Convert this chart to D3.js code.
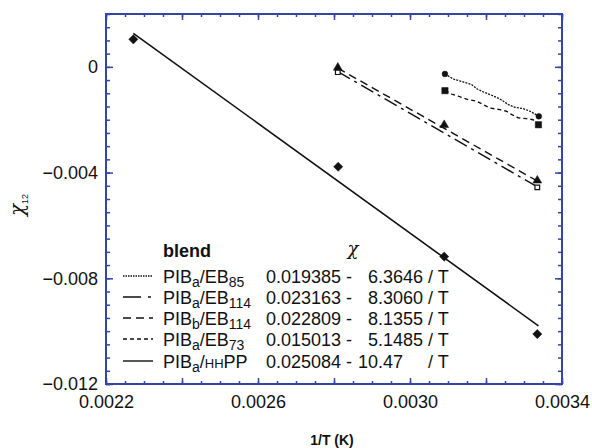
<!DOCTYPE html>
<html>
<head>
<meta charset="utf-8">
<script src="https://cdn.jsdelivr.net/npm/d3@7"></script>
<style>
  body { margin: 0; background: #fff; }
  svg { display: block; font-family: "Liberation Sans", Arial, sans-serif; }
</style>
</head>
<body>
<svg width="592" height="448"></svg>
<script>
// Tick values
const xLabelTicks = [0.0022, 0.0026, 0.0030, 0.0034];
const yLabelTicks = [0, -0.004, -0.008, -0.012];

// PIBa/HHPP - diamonds + solid fit line
const hhppX = [0.002272, 0.002811, 0.003090, 0.003335];
const hhppY = [0.00104, -0.00378, -0.00718, -0.01011];
const hhppFitX = [0.002272, 0.003338];
const hhppFitY = [0.00127, -0.0098];

// PIBa/EB114 - open squares + dash-dot fit line
const eb114aX = [0.00281, 0.003335];
const eb114aY = [-0.0002, -0.00456];
const eb114aFitY = [-0.00018, -0.00454];

// PIBb/EB114 - triangles + dashed fit line
const eb114bX = [0.00281, 0.00309, 0.003335];
const eb114bY = [-0.00003, -0.0022, -0.0043];
const eb114bFitY = [-0.00005, -0.00432];

// PIBa/EB85 - circles, fine dotted curve
const eb85X = [0.003092, 0.003114, 0.003140, 0.003162, 0.003176, 0.003193, 0.003211,
  0.003232, 0.003246, 0.003259, 0.003276, 0.003298, 0.003316, 0.003339];
const eb85Y = [-0.00027, -0.00046, -0.00057, -0.00067, -0.00083, -0.00095, -0.00105,
  -0.00118, -0.00130, -0.00143, -0.00153, -0.00158, -0.00168, -0.00187];

// PIBa/EB73 - filled squares, short dashed curve
const eb73X = [0.003092, 0.003110, 0.003127, 0.003153, 0.003176, 0.003193, 0.003211,
  0.003237, 0.003254, 0.003268, 0.003285, 0.003307, 0.003324, 0.003338];
const eb73Y = [-0.00090, -0.00103, -0.00111, -0.00124, -0.00130, -0.00143, -0.00156,
  -0.00162, -0.00168, -0.00181, -0.00193, -0.00196, -0.00200, -0.00219];

// Legend content
const legendSub1 = ["a", "a", "b", "a", "a"];
const legendSub2 = ["85", "114", "114", "73", ""];
const legendA = ["0.019385", "0.023163", "0.022809", "0.015013", "0.025084"];
const legendB = ["6.3646", "8.3060", "8.1355", "5.1485", "10.47"];
const legendDash = ["1.5,1", "18,7,3,10", "8,5", "4,3", null];

const blue = "#3346a8";
const margin = { top: 14, right: 30, bottom: 64, left: 106 };
const width = 592 - margin.left - margin.right,
  height = 448 - margin.top - margin.bottom;

const svg = d3.select("svg")
  .append("g")
  .attr("transform", `translate(${margin.left},${margin.top})`);

const x = d3.scaleLinear().domain([0.0022, 0.0034]).range([0, width]);
const y = d3.scaleLinear().domain([-0.012, 0.002]).range([height, 0]);

const xMinor = d3.range(0, 25).map(i => 0.0022 + i * 0.00005);
const xMajor = d3.range(0, 7).map(i => 0.0022 + i * 0.0002);
const yMinor = d3.range(0, 29).map(i => -0.012 + i * 0.0005);

// Ticks drawn inward on all four sides
function tickAxis(axisFn, scale, values, size, transform) {
  const g = svg.append("g")
    .attr("transform", transform)
    .call(axisFn(scale).tickValues(values).tickSize(-size).tickFormat(""));
  g.select(".domain").remove();
  g.selectAll("line").attr("stroke", blue).attr("stroke-width", 1.5);
  return g;
}
tickAxis(d3.axisBottom, x, xMinor, 3, `translate(0,${height})`);
tickAxis(d3.axisBottom, x, xMajor, 6, `translate(0,${height})`);
tickAxis(d3.axisTop, x, xMinor, 3, "translate(0,0)");
tickAxis(d3.axisTop, x, xMajor, 6, "translate(0,0)");
tickAxis(d3.axisLeft, y, yMinor, 4, "translate(0,0)");
tickAxis(d3.axisLeft, y, yLabelTicks, 7, "translate(0,0)");
tickAxis(d3.axisRight, y, yMinor, 4, `translate(${width},0)`);
tickAxis(d3.axisRight, y, yLabelTicks, 7, `translate(${width},0)`);

// Tick labels
const xl = svg.append("g")
  .attr("transform", `translate(0,${height})`)
  .call(d3.axisBottom(x).tickValues(xLabelTicks).tickSize(0).tickPadding(11)
    .tickFormat(d3.format(".4f")));
xl.select(".domain").remove();
xl.selectAll("text").attr("font-size", 18).attr("fill", "#111").attr("font-family", null);

const yl = svg.append("g")
  .call(d3.axisLeft(y).tickValues(yLabelTicks).tickSize(0).tickPadding(8)
    .tickFormat(d => d === 0 ? "0" : d3.format(".3f")(d)));
yl.select(".domain").remove();
yl.selectAll("text").attr("font-size", 18).attr("fill", "#111").attr("font-family", null);

// Frame
svg.append("rect")
  .attr("width", width).attr("height", height)
  .attr("fill", "none").attr("stroke", blue).attr("stroke-width", 2);

// Axis titles
svg.append("text")
  .attr("x", width / 2 - 2).attr("y", height + 61)
  .attr("text-anchor", "middle")
  .attr("font-size", 14).attr("font-weight", "bold").attr("fill", "#111")
  .text("1/T (K)");

const yTitle = svg.append("text")
  .attr("transform", `translate(${-82},${height / 2 + 6}) rotate(-90)`)
  .attr("text-anchor", "middle").attr("fill", "#111");
yTitle.append("tspan").attr("font-family", "DejaVu Serif").attr("font-style", "italic")
  .attr("font-size", 20).text("χ");
yTitle.append("tspan").attr("font-size", 9).attr("dy", 4).text("12");

// Lines
const line = d3.line().x(d => x(d[0])).y(d => y(d[1]));
const zip = (a, b) => a.map((v, i) => [v, b[i]]);

function drawLine(pts, dash, w) {
  svg.append("path")
    .datum(pts)
    .attr("fill", "none")
    .attr("stroke", "#111")
    .attr("stroke-width", w)
    .attr("stroke-dasharray", dash)
    .attr("d", line);
}
drawLine(zip(hhppFitX, hhppFitY), null, 1.6);
drawLine(zip(eb114aX, eb114aFitY), "14,5,3,5", 1.4);
drawLine(zip(eb114aX, eb114bFitY), "8,5", 1.4);
drawLine(zip(eb85X, eb85Y), "2,1.2", 1.3);
drawLine(zip(eb73X, eb73Y), "4,3", 1.4);

// Markers
function drawMarkers(xs, ys, type, size, fill, rotate) {
  svg.selectAll(null)
    .data(zip(xs, ys))
    .enter()
    .append("path")
    .attr("d", d3.symbol().type(type).size(size))
    .attr("transform", d => `translate(${x(d[0])},${y(d[1])}) rotate(${rotate})`)
    .attr("fill", fill)
    .attr("stroke", "#111")
    .attr("stroke-width", fill === "#fff" ? 1.2 : 0.5);
}
drawMarkers(hhppX, hhppY, d3.symbolSquare, 42, "#111", 45);
drawMarkers(eb114aX, eb114aY, d3.symbolSquare, 22, "#fff", 0);
drawMarkers(eb114bX, eb114bY, d3.symbolTriangle, 34, "#111", 0);
drawMarkers([eb85X[0], eb85X[eb85X.length - 1]], [eb85Y[0], eb85Y[eb85Y.length - 1]],
  d3.symbolCircle, 26, "#111", 0);
drawMarkers([eb73X[0], eb73X[eb73X.length - 1]], [eb73Y[0], eb73Y[eb73Y.length - 1]],
  d3.symbolSquare, 40, "#111", 0);

// Legend
const lg = svg.append("g").attr("fill", "#111").attr("font-size", 18);
lg.append("text").attr("x", 57).attr("y", 243).attr("font-weight", "bold").text("blend");
lg.append("text").attr("x", 247).attr("y", 241).attr("text-anchor", "middle")
  .attr("font-family", "DejaVu Serif").attr("font-style", "italic").attr("font-size", 18)
  .text("χ");

const rowY = [269, 290, 311, 332, 354];
legendA.forEach((a, i) => {
  const yb = rowY[i];
  const sample = lg.append("line")
    .attr("x1", 17).attr("x2", 47)
    .attr("y1", yb - 7).attr("y2", yb - 7)
    .attr("stroke", "#111").attr("stroke-width", 1.4);
  if (legendDash[i]) sample.attr("stroke-dasharray", legendDash[i]);

  const t = lg.append("text").attr("x", 57).attr("y", yb);
  t.append("tspan").text("PIB");
  t.append("tspan").attr("font-size", 14).attr("dy", 4).text(legendSub1[i]);
  if (legendSub2[i]) {
    t.append("tspan").attr("dy", -4).text("/EB");
    t.append("tspan").attr("font-size", 14).attr("dy", 4).text(legendSub2[i]);
  } else {
    t.append("tspan").attr("dy", -4).text("/");
    t.append("tspan").attr("font-size", 13).text("HH");
    t.append("tspan").text("PP");
  }

  lg.append("text").attr("x", 160).attr("y", yb).text(a + " -");
  const parts = legendB[i].split(".");
  lg.append("text").attr("x", 272).attr("y", yb).attr("text-anchor", "end").text(parts[0]);
  lg.append("text").attr("x", 272).attr("y", yb).text("." + parts[1]);
  lg.append("text").attr("x", 322).attr("y", yb).text("/ T");
});
</script>
</body>
</html>
